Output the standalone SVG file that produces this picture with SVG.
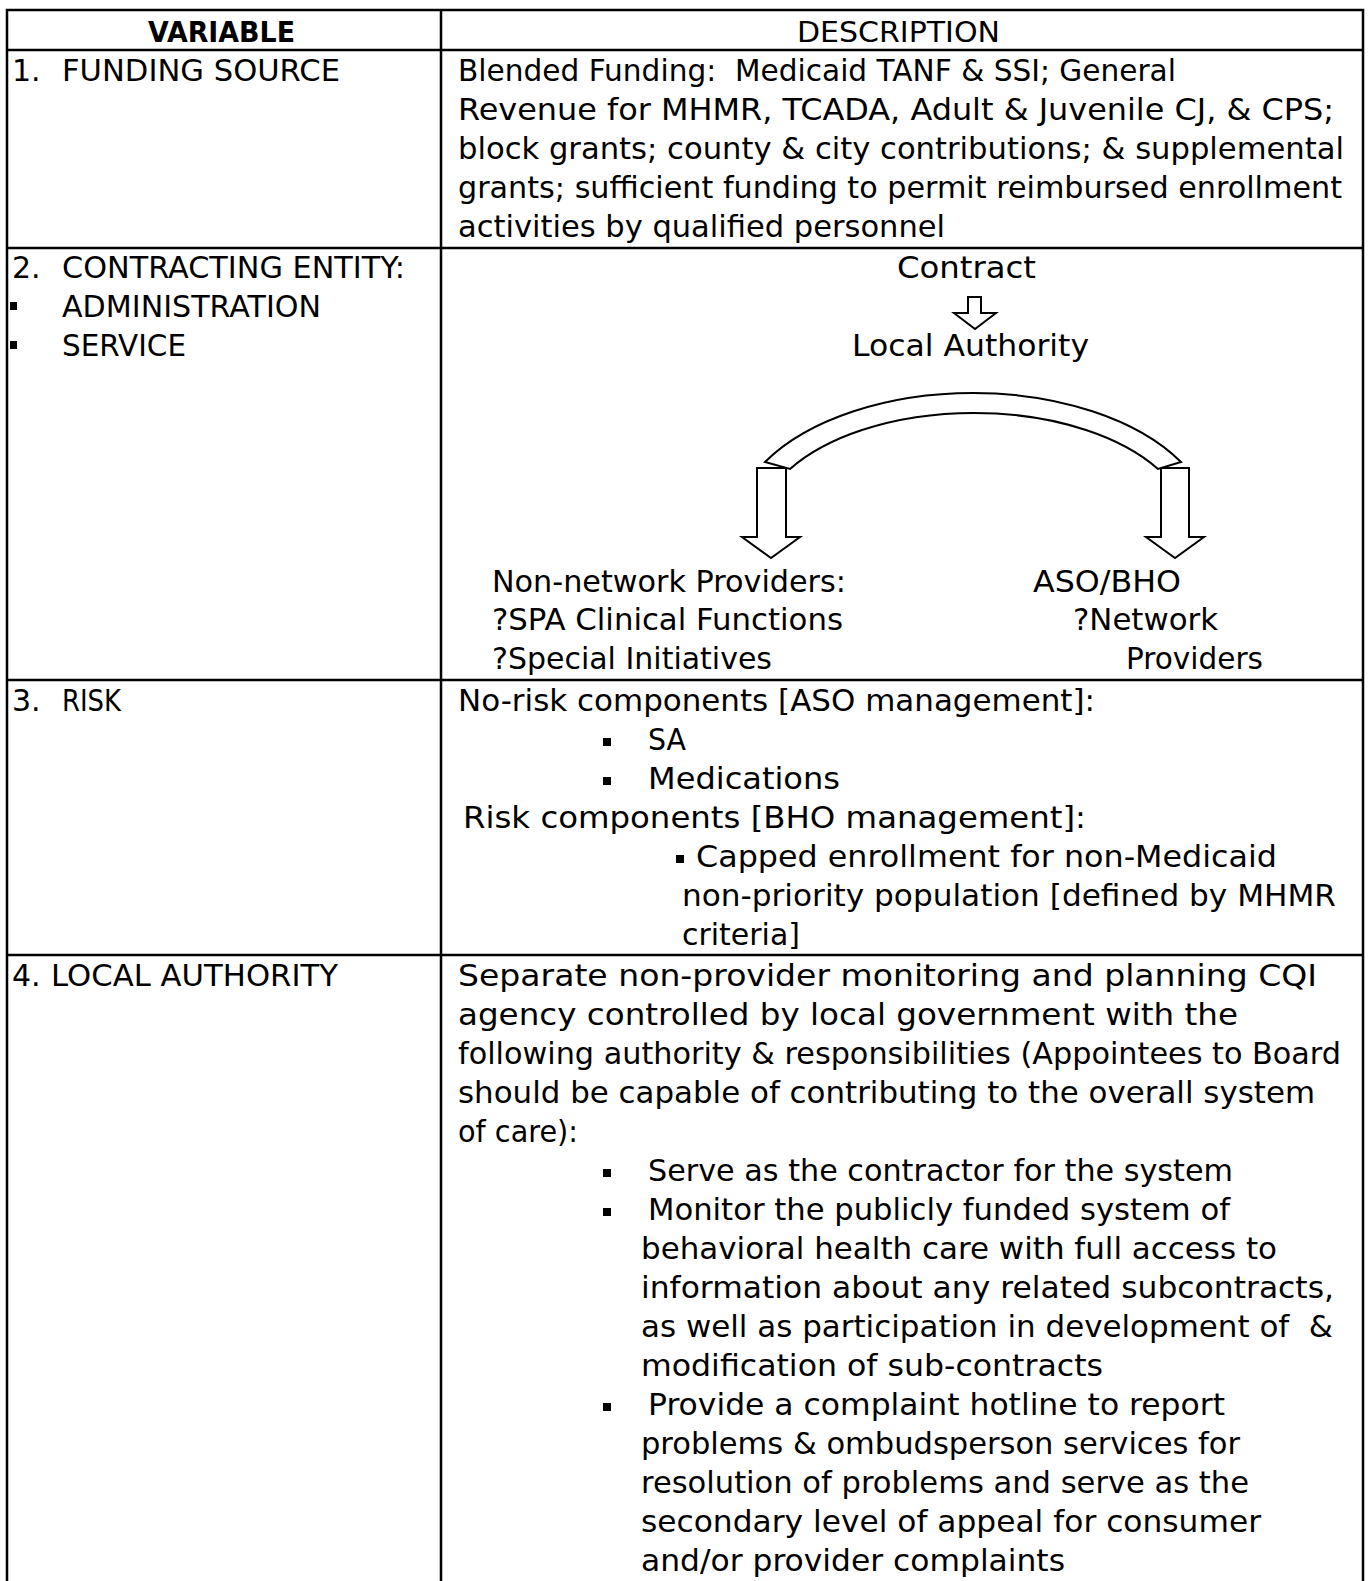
<svg xmlns="http://www.w3.org/2000/svg" width="1368" height="1581" viewBox="0 0 1368 1581">
<style>
.t{font-family:"DejaVu Sans","Liberation Sans",sans-serif;font-size:30px;fill:#000;white-space:pre}
.h{font-family:"DejaVu Sans","Liberation Sans",sans-serif;font-size:28px;font-weight:bold;fill:#000}
.g{stroke:#000;stroke-width:2.5;fill:none}
.a{stroke:#000;stroke-width:2;fill:#fff;stroke-linejoin:miter}
.b{fill:#000}
</style>
<rect width="1368" height="1581" fill="#fff"/>
<g id="table-grid">
<path class="g" d="M7 1581V10H1363V1581M441 10V1581M7 50H1363M7 248H1363M7 680H1363M7 955H1363"/>
</g>
<g id="header">
<text class="h" x="148" y="42" textLength="147" lengthAdjust="spacingAndGlyphs">VARIABLE</text>
<text class="t" x="797" y="42" textLength="203" lengthAdjust="spacingAndGlyphs" style="font-size:28px">DESCRIPTION</text>
</g>
<g id="row1-funding-source">
<text class="t" x="12" y="81">1.</text>
<text class="t" x="62" y="81" textLength="278" lengthAdjust="spacingAndGlyphs">FUNDING SOURCE</text>
<text class="t" x="458" y="81" textLength="718" lengthAdjust="spacingAndGlyphs">Blended Funding:  Medicaid TANF &amp; SSI; General</text>
<text class="t" x="458" y="120" textLength="876" lengthAdjust="spacingAndGlyphs">Revenue for MHMR, TCADA, Adult &amp; Juvenile CJ, &amp; CPS;</text>
<text class="t" x="458" y="159" textLength="886" lengthAdjust="spacingAndGlyphs">block grants; county &amp; city contributions; &amp; supplemental</text>
<text class="t" x="458" y="198" textLength="884" lengthAdjust="spacingAndGlyphs">grants; sufficient funding to permit reimbursed enrollment</text>
<text class="t" x="458" y="237" textLength="487" lengthAdjust="spacingAndGlyphs">activities by qualified personnel</text>
</g>
<g id="row2-contracting-entity">
<text class="t" x="12" y="278">2.</text>
<text class="t" x="62" y="278" textLength="343" lengthAdjust="spacingAndGlyphs">CONTRACTING ENTITY:</text>
<rect class="b" x="10" y="302" width="7" height="8"/>
<text class="t" x="62" y="317" textLength="259" lengthAdjust="spacingAndGlyphs">ADMINISTRATION</text>
<rect class="b" x="10" y="341" width="7" height="8"/>
<text class="t" x="62" y="356" textLength="124" lengthAdjust="spacingAndGlyphs">SERVICE</text>
</g>
<g id="node-contract">
<text class="t" x="897" y="278" textLength="139" lengthAdjust="spacingAndGlyphs">Contract</text>
</g>
<g id="node-local-authority">
<text class="t" x="852" y="356" textLength="237" lengthAdjust="spacingAndGlyphs">Local Authority</text>
</g>
<g id="node-non-network">
<text class="t" x="492" y="592" textLength="354" lengthAdjust="spacingAndGlyphs">Non-network Providers:</text>
<text class="t" x="492" y="630" textLength="351" lengthAdjust="spacingAndGlyphs">?SPA Clinical Functions</text>
<text class="t" x="492" y="669" textLength="280" lengthAdjust="spacingAndGlyphs">?Special Initiatives</text>
</g>
<g id="node-aso-bho">
<text class="t" x="1033" y="592" textLength="148" lengthAdjust="spacingAndGlyphs">ASO/BHO</text>
<text class="t" x="1073" y="630" textLength="145" lengthAdjust="spacingAndGlyphs">?Network</text>
<text class="t" x="1126" y="669" textLength="137" lengthAdjust="spacingAndGlyphs">Providers</text>
</g>
<g id="connectors">
<polygon class="a" points="968,297 981,297 981,313 996,313 975,329 954,313 968,313"/>
<polygon class="a" points="757,468 786,468 786,537 800,537 771,558 742,537 757,537"/>
<polygon class="a" points="1161,468 1189,468 1189,537 1204,537 1175,558 1146,537 1161,537"/>
<path class="a" d="M765 462A240 137.7 0 0 1 1181 462L1158 469A216 117.7 0 0 0 790 469Z"/>
</g>
<g id="row3-risk">
<text class="t" x="12" y="711">3.</text>
<text class="t" x="62" y="711" textLength="59" lengthAdjust="spacingAndGlyphs">RISK</text>
<text class="t" x="458" y="711" textLength="637" lengthAdjust="spacingAndGlyphs">No-risk components [ASO management]:</text>
<rect class="b" x="603" y="738" width="8" height="8"/>
<text class="t" x="648" y="750" textLength="38" lengthAdjust="spacingAndGlyphs">SA</text>
<rect class="b" x="603" y="777" width="8" height="8"/>
<text class="t" x="648" y="789" textLength="192" lengthAdjust="spacingAndGlyphs">Medications</text>
<text class="t" x="463" y="828" textLength="623" lengthAdjust="spacingAndGlyphs">Risk components [BHO management]:</text>
<rect class="b" x="676" y="855" width="8" height="8"/>
<text class="t" x="696" y="867" textLength="581" lengthAdjust="spacingAndGlyphs">Capped enrollment for non-Medicaid</text>
<text class="t" x="682" y="906" textLength="654" lengthAdjust="spacingAndGlyphs">non-priority population [defined by MHMR</text>
<text class="t" x="682" y="945" textLength="118" lengthAdjust="spacingAndGlyphs">criteria]</text>
</g>
<g id="row4-local-authority">
<text class="t" x="12" y="986">4.</text>
<text class="t" x="51" y="986" textLength="287" lengthAdjust="spacingAndGlyphs">LOCAL AUTHORITY</text>
<text class="t" x="458" y="986" textLength="859" lengthAdjust="spacingAndGlyphs">Separate non-provider monitoring and planning CQI</text>
<text class="t" x="458" y="1025" textLength="780" lengthAdjust="spacingAndGlyphs">agency controlled by local government with the</text>
<text class="t" x="458" y="1064" textLength="883" lengthAdjust="spacingAndGlyphs">following authority &amp; responsibilities (Appointees to Board</text>
<text class="t" x="458" y="1103" textLength="857" lengthAdjust="spacingAndGlyphs">should be capable of contributing to the overall system</text>
<text class="t" x="458" y="1142" textLength="120" lengthAdjust="spacingAndGlyphs">of care):</text>
<rect class="b" x="603" y="1169" width="8" height="8"/>
<text class="t" x="648" y="1181" textLength="585" lengthAdjust="spacingAndGlyphs">Serve as the contractor for the system</text>
<rect class="b" x="603" y="1208" width="8" height="8"/>
<text class="t" x="648" y="1220" textLength="582" lengthAdjust="spacingAndGlyphs">Monitor the publicly funded system of</text>
<text class="t" x="641" y="1259" textLength="636" lengthAdjust="spacingAndGlyphs">behavioral health care with full access to</text>
<text class="t" x="641" y="1298" textLength="693" lengthAdjust="spacingAndGlyphs">information about any related subcontracts,</text>
<text class="t" x="641" y="1337" textLength="692" lengthAdjust="spacingAndGlyphs">as well as participation in development of  &amp;</text>
<text class="t" x="641" y="1376" textLength="462" lengthAdjust="spacingAndGlyphs">modification of sub-contracts</text>
<rect class="b" x="603" y="1403" width="8" height="8"/>
<text class="t" x="648" y="1415" textLength="577" lengthAdjust="spacingAndGlyphs">Provide a complaint hotline to report</text>
<text class="t" x="641" y="1454" textLength="599" lengthAdjust="spacingAndGlyphs">problems &amp; ombudsperson services for</text>
<text class="t" x="641" y="1493" textLength="608" lengthAdjust="spacingAndGlyphs">resolution of problems and serve as the</text>
<text class="t" x="641" y="1532" textLength="620" lengthAdjust="spacingAndGlyphs">secondary level of appeal for consumer</text>
<text class="t" x="641" y="1571" textLength="424" lengthAdjust="spacingAndGlyphs">and/or provider complaints</text>
</g>
</svg>
